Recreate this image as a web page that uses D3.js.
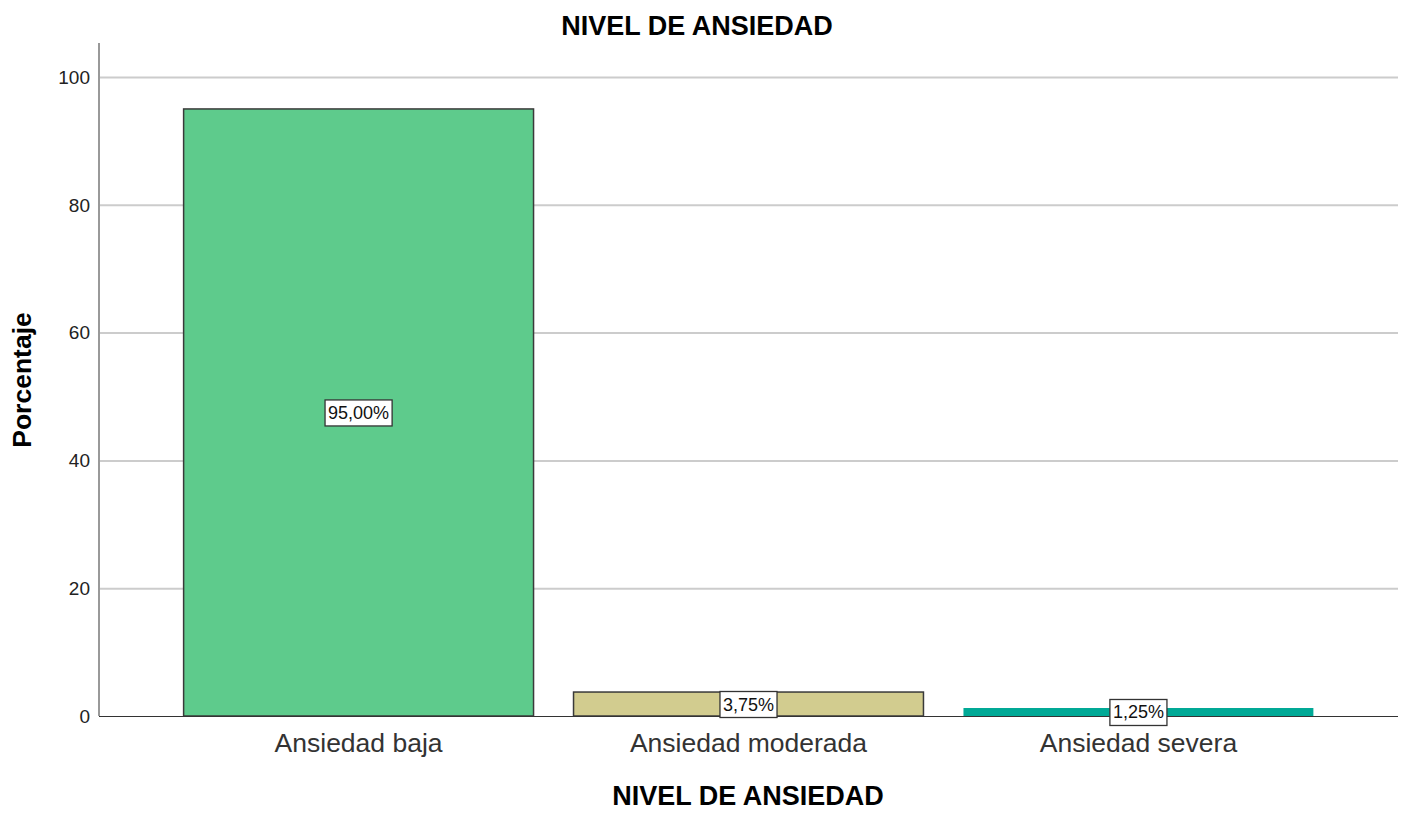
<!DOCTYPE html>
<html><head><meta charset="utf-8">
<script src="https://cdn.jsdelivr.net/npm/d3@7"></script>
<style>body{margin:0;background:#fff;}svg{display:block;font-family:"Liberation Sans",Arial,sans-serif;}</style>
</head><body>
<svg id="c" width="1411" height="815"></svg>
<script>
const categories = ["Ansiedad baja", "Ansiedad moderada", "Ansiedad severa"];
const values = [95.00, 3.75, 1.25];
const labels = ["95,00%", "3,75%", "1,25%"];
const colors = ["#5ECB8C", "#D2CC8F", "#00A996"];
const yTicks = [0, 20, 40, 60, 80, 100];

const svg = d3.select("#c");
const L = 99, R = 1398, T = 43, B = 716;
const x = d3.scaleBand().domain(categories).range([L, R]).paddingInner(40/390).paddingOuter(0.217);
const y = d3.scaleLinear().domain([0, 100]).range([B, 77]);

// gridlines
svg.append("g").selectAll("line").data(yTicks.filter(d=>d>0)).join("line")
  .attr("x1", L).attr("x2", R).attr("y1", d=>y(d)+0.5).attr("y2", d=>y(d)+0.5)
  .attr("stroke", "#cccccc").attr("stroke-width", 2);

// y axis line
svg.append("line").attr("x1", L).attr("x2", L).attr("y1", T).attr("y2", B)
  .attr("stroke", "#999").attr("stroke-width", 2);

// tick labels
svg.append("g").selectAll("text").data(yTicks).join("text")
  .attr("x", L - 9).attr("y", d=>y(d)).attr("dy", "0.36em")
  .attr("text-anchor", "end").attr("font-size", 19).attr("fill", "#222")
  .text(d=>d);

// bars
svg.append("g").selectAll("rect").data(values).join("rect")
  .attr("x", (d,i)=>x(categories[i])).attr("width", x.bandwidth())
  .attr("y", d=>y(d)).attr("height", d=>B - y(d))
  .attr("fill", (d,i)=>colors[i])
  .attr("stroke", (d,i)=> i===2 ? "none" : "#3a3a3a").attr("stroke-width", 1.5);

// baseline
svg.append("line").attr("x1", L).attr("x2", R).attr("y1", B+0.5).attr("y2", B+0.5)
  .attr("stroke", "#333").attr("stroke-width", 1.2);

// value labels
const lg = svg.append("g").selectAll("g").data(values).join("g")
  .attr("transform", (d,i)=>`translate(${x(categories[i]) + x.bandwidth()/2},${(y(d)+B)/2})`);
lg.append("text").attr("text-anchor","middle").attr("dy","0.36em")
  .attr("font-size", 18).attr("fill","#111").text((d,i)=>labels[i])
  .each(function(){
    const bb = this.getBBox();
    d3.select(this.parentNode).insert("rect","text")
      .attr("x", bb.x-3).attr("y", bb.y-3).attr("width", bb.width+6).attr("height", bb.height+6)
      .attr("fill","#fff").attr("stroke","#333").attr("stroke-width",1.3);
  });

// category labels
svg.append("g").selectAll("text").data(categories).join("text")
  .attr("x", d=>x(d)+x.bandwidth()/2).attr("y", 752)
  .attr("text-anchor","middle").attr("font-size", 26.5).attr("fill","#333")
  .text(d=>d);

// titles
svg.append("text").attr("x", 697).attr("y", 35).attr("text-anchor","middle")
  .attr("font-size", 27).attr("font-weight","bold").attr("fill","#000").text("NIVEL DE ANSIEDAD");
svg.append("text").attr("x", 748).attr("y", 805).attr("text-anchor","middle")
  .attr("font-size", 27).attr("font-weight","bold").attr("fill","#000").text("NIVEL DE ANSIEDAD");
svg.append("text").attr("transform","translate(31,380) rotate(-90)").attr("text-anchor","middle")
  .attr("font-size", 26.5).attr("font-weight","bold").attr("fill","#000").text("Porcentaje");
</script>
</body></html>
